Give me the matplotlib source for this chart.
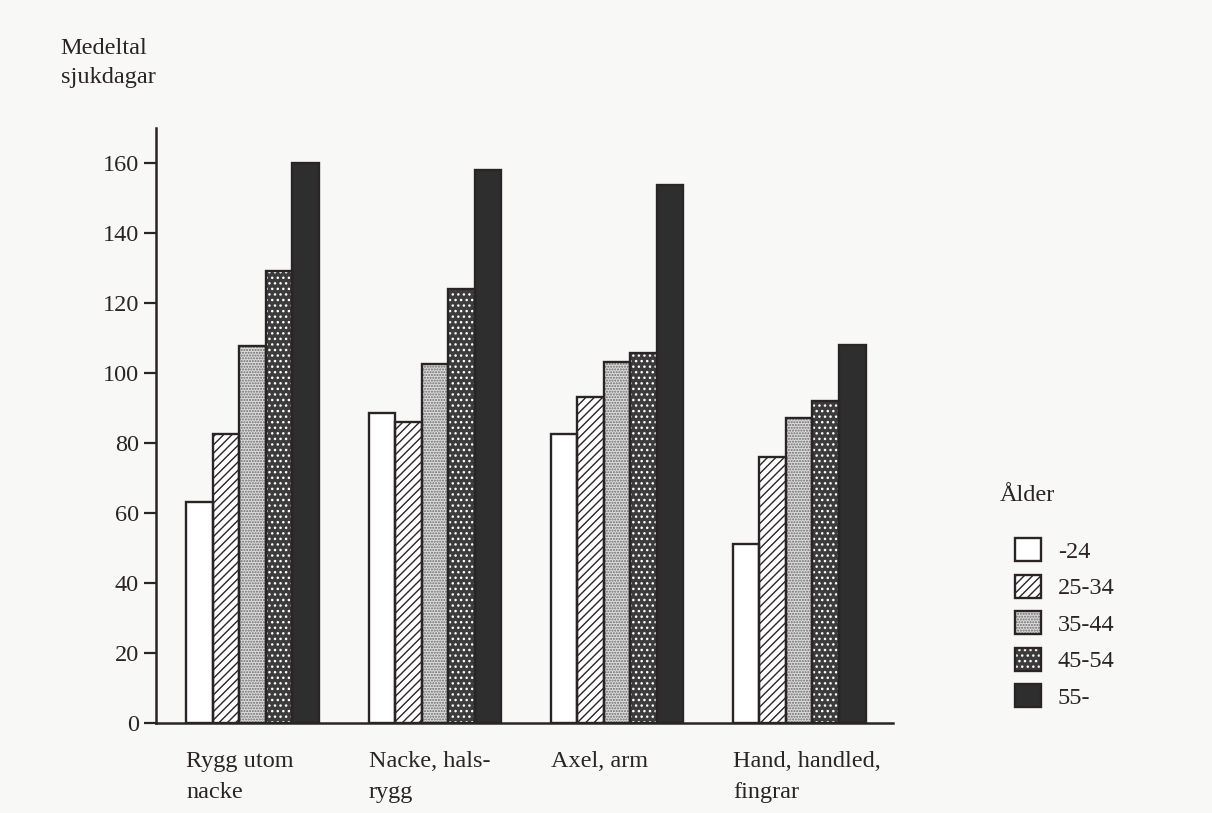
import numpy as np
import matplotlib
matplotlib.use("Agg")
import matplotlib.pyplot as plt
from matplotlib.patches import Patch
from matplotlib.legend_handler import HandlerTuple

# Data
categories = ["Rygg utom\nnacke", "Nacke, hals-\nrygg", "Axel, arm", "Hand, handled,\nfingrar"]
age_groups = ["-24", "25-34", "35-44", "45-54", "55-"]
val_u24 = [63, 88.5, 82.5, 51]
val_25_34 = [82.5, 86, 93, 76]
val_35_44 = [107.5, 102.5, 103, 87]
val_45_54 = [129, 124, 105.5, 92]
val_55 = [160, 158, 153.5, 108]
yticks = [0, 20, 40, 60, 80, 100, 120, 140, 160]

series = [val_u24, val_25_34, val_35_44, val_45_54, val_55]

INK = "#2b2426"
plt.rcParams["font.family"] = ["Liberation Serif", "DejaVu Serif"]
plt.rcParams["hatch.linewidth"] = 1.0
FS = 17.5

# style per age group: (facecolor, hatch, hatchcolor)
styles = [
    ("white", None, INK),
    ("white", "////", INK),
    ("#dcdcdc", "......", "#6a6a6a"),
    ("#3c3c3c", "...", "white"),
    ("#2e2e2e", None, INK),
]

fig = plt.figure(figsize=(12.12, 8.13), dpi=100, facecolor="#f8f8f7")
ax = fig.add_axes([0.1285, 0.111, 0.6085, 0.732])
ax.set_facecolor("none")

x = np.arange(len(categories))
w = 0.1455
handles = []
for i, (vals, (fc, hatch, hc)) in enumerate(zip(series, styles)):
    pos = x + (i - 2) * w
    ax.bar(pos, vals, width=w, color=fc, linewidth=0, zorder=2)
    if hatch:
        ax.bar(pos, vals, width=w, color="none", edgecolor=hc, hatch=hatch,
               linewidth=0, zorder=3)
    ax.bar(pos, vals, width=w, color="none", edgecolor=INK, linewidth=1.7, zorder=4)
    parts = [Patch(facecolor=fc, linewidth=0)]
    if hatch:
        parts.append(Patch(facecolor="none", edgecolor=hc, hatch=hatch, linewidth=0))
    parts.append(Patch(facecolor="none", edgecolor=INK, linewidth=1.7))
    handles.append(tuple(parts))

ax.set_xlim(-0.532, 3.516)
ax.set_ylim(0, 170)
ax.set_yticks(yticks)
ax.set_yticklabels([str(t) for t in yticks], fontsize=FS, color=INK)
ax.set_xticks([])
ax.tick_params(axis="y", direction="out", length=9, width=1.6, color=INK, pad=3)
for s in ["top", "right"]:
    ax.spines[s].set_visible(False)
for s in ["left", "bottom"]:
    ax.spines[s].set_color(INK)
    ax.spines[s].set_linewidth(1.8)

# category labels, left-aligned at each group's first bar
trans = ax.get_xaxis_transform()
for xi, lab in zip(x, categories):
    ax.text(xi - 2.5 * w, -0.047, lab, transform=trans, ha="left", va="top",
            fontsize=FS, color=INK, linespacing=1.62)

fig.text(0.050, 0.953, "Medeltal\nsjukdagar", ha="left", va="top",
         fontsize=FS, color=INK, linespacing=1.5)

fig.text(0.825, 0.391, "Ålder", ha="left", va="center", fontsize=FS, color=INK)
fig.legend(handles, age_groups, handler_map={tuple: HandlerTuple(ndivide=1)},
           loc="upper left", bbox_to_anchor=(0.8375, 0.338), frameon=False,
           fontsize=FS, handlelength=1.08, handleheight=1.08, handletextpad=0.68,
           labelspacing=0.48, borderpad=0, borderaxespad=0, labelcolor=INK)

fig.savefig("out.png", dpi=100, facecolor=fig.get_facecolor())
